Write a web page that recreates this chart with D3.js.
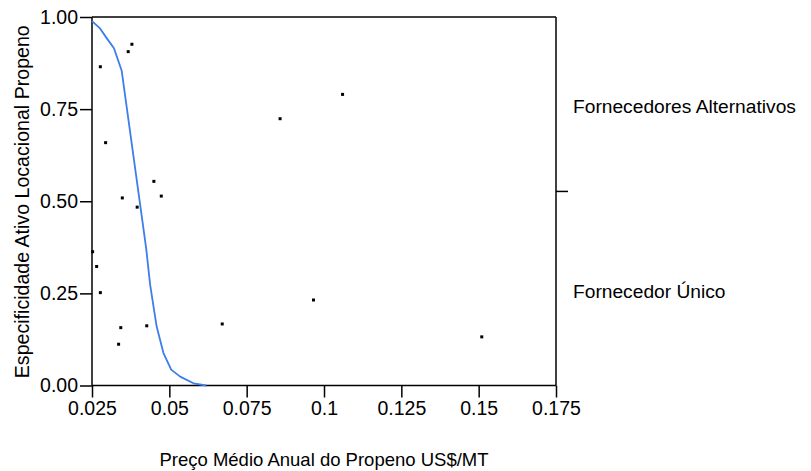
<!DOCTYPE html>
<html>
<head>
<meta charset="utf-8">
<script src="https://cdn.jsdelivr.net/npm/d3@7"></script>
<style>
  html, body { margin: 0; padding: 0; background: #fff; }
  svg { display: block; }
  text { font-family: "Liberation Sans", Arial, sans-serif; fill: #000; }
</style>
</head>
<body>
<svg id="chart" width="811" height="471"></svg>
<script>
// Observed pairs: annual mean propene price vs. locational asset specificity
const priceX = [0.0277, 0.0294, 0.0367, 0.0379, 0.0450, 0.0474, 0.0348, 0.0396, 0.0252, 0.0265,
                0.0277, 0.0343, 0.0336, 0.0427, 0.0671, 0.1510, 0.0858, 0.1060, 0.0966];
const specY  = [0.865, 0.659, 0.906, 0.926, 0.554, 0.514, 0.509, 0.484, 0.363, 0.323,
                0.252, 0.157, 0.112, 0.162, 0.167, 0.132, 0.724, 0.790, 0.232];

// Fitted logistic curve
const fitX = [0.0250, 0.0276, 0.0298, 0.0321, 0.0346, 0.0425, 0.0438, 0.0459, 0.0481, 0.0506,
              0.0535, 0.0578, 0.0619];
const fitY = [0.989, 0.969, 0.942, 0.915, 0.854, 0.373, 0.273, 0.160, 0.088, 0.043,
              0.024, 0.006, 0.000];

// Axis ticks
const xTicks = [0.025, 0.05, 0.075, 0.1, 0.125, 0.15, 0.175];
const xTickLabels = ["0.025", "0.05", "0.075", "0.1", "0.125", "0.15", "0.175"];
const yTicks = [0, 0.25, 0.5, 0.75, 1];
const yTickLabels = ["0.00", "0.25", "0.50", "0.75", "1.00"];

// Outcome groups on the right-hand axis
const groupNames = ["Fornecedores Alternativos", "Fornecedor Único"];
const groupLevels = [0.758, 0.257];
const groupSplit = [0.528];

const xTitle = "Preço Médio Anual do Propeno US$/MT";
const yTitle = "Especificidade Ativo Locacional Propeno";

const margin = { top: 17, right: 255, bottom: 85.5, left: 92 };
const W = 811, H = 471;
const svg = d3.select("#chart");

const x = d3.scaleLinear().domain([0.025, 0.175]).range([margin.left, W - margin.right]);
const y = d3.scaleLinear().domain([0, 1]).range([H - margin.bottom, margin.top]);

const fs = 19.5;

// Frame (top spine)
svg.append("line")
  .attr("x1", x.range()[0]).attr("x2", x.range()[1])
  .attr("y1", y(1)).attr("y2", y(1))
  .attr("stroke", "#000").attr("stroke-width", 1.5);

// Bottom axis
const gx = svg.append("g")
  .attr("transform", `translate(0,${y(0)})`)
  .call(d3.axisBottom(x).tickValues(xTicks).tickSize(12).tickPadding(4)
        .tickFormat((d, i) => xTickLabels[i]));

// Left axis
const gy = svg.append("g")
  .attr("transform", `translate(${x(0.025)},0)`)
  .call(d3.axisLeft(y).tickValues(yTicks).tickSize(12).tickPadding(2)
        .tickFormat((d, i) => yTickLabels[i]));

// Right axis: divider between the two outcome groups
const gr = svg.append("g")
  .attr("transform", `translate(${x(0.175)},0)`)
  .call(d3.axisRight(y).tickValues(groupSplit).tickSize(12).tickFormat(""));

[gx, gy, gr].forEach(g => {
  g.select(".domain").attr("stroke", "#000").attr("stroke-width", 1.5);
  g.selectAll(".tick line").attr("stroke", "#000").attr("stroke-width", 1.5);
  g.selectAll("text")
    .style("font-family", "'Liberation Sans', Arial, sans-serif")
    .style("font-size", fs + "px")
    .attr("fill", "#000");
});
gr.select(".domain").attr("d", `M0,${y(0)}V${y(1)}`);
gx.select(".domain").attr("d", `M${x(0.025)},0H${x(0.175)}`);
gy.select(".domain").attr("d", `M0,${y(0)}V${y(1)}`);

// Group labels
svg.append("g").selectAll("text")
  .data(groupNames)
  .join("text")
  .attr("x", x(0.175) + 17)
  .attr("y", (d, i) => y(groupLevels[i]))
  .attr("dy", "0.36em")
  .style("font-size", "19.2px")
  .text(d => d);

// Fitted curve
const fit = fitX.map((v, i) => [v, fitY[i]]);
svg.append("path")
  .datum(fit)
  .attr("fill", "none")
  .attr("stroke", "#3d7ee8")
  .attr("stroke-width", 1.8)
  .attr("stroke-linejoin", "round")
  .attr("d", d3.line().x(d => x(d[0])).y(d => y(d[1])));

// Observations
svg.append("g").selectAll("rect")
  .data(priceX.map((v, i) => [v, specY[i]]))
  .join("rect")
  .attr("x", d => x(d[0]) - 1.5)
  .attr("y", d => y(d[1]) - 1.5)
  .attr("width", 3)
  .attr("height", 3)
  .attr("fill", "#000");

// Axis titles
svg.append("text")
  .attr("x", (x.range()[0] + x.range()[1]) / 2)
  .attr("y", 466)
  .attr("text-anchor", "middle")
  .style("font-size", "18.5px")
  .text(xTitle);

svg.append("text")
  .attr("transform", `translate(29,${(y(0) + y(1)) / 2 + 0.5}) rotate(-90)`)
  .attr("text-anchor", "middle")
  .style("font-size", "19.6px")
  .text(yTitle);
</script>
</body>
</html>
